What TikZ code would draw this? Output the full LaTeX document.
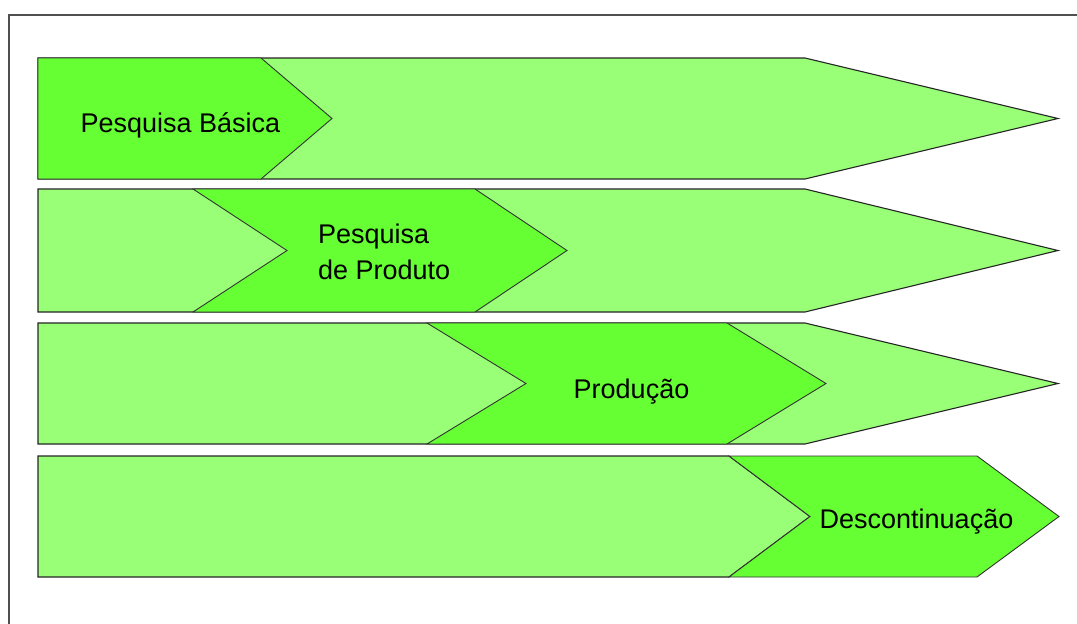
\documentclass[tikz,border=0pt]{standalone}
\usepackage{fontspec}
\setmainfont{Liberation Sans}
\definecolor{phaselight}{RGB}{153,255,119}
\definecolor{phasedark}{RGB}{102,255,51}
\definecolor{framegray}{RGB}{80,80,80}
\begin{document}
\begin{tikzpicture}[x=1pt,y=-1pt,
  band/.style={fill=phaselight,draw=black!85,line width=1.1pt,line join=miter},
  phase/.style={fill=phasedark,draw=black!80,line width=0.9pt,line join=miter},
  label/.style={font=\fontsize{27}{36}\selectfont,text=black,inner sep=0pt,anchor=base}]
\useasboundingbox (0,0) rectangle (1077,624);
\fill[white] (0,0) rectangle (1077,624);
% outer frame
\draw[framegray,line width=1.3pt] (9,630) -- (9,15) -- (1080,15);

% light background bands
\draw[band] (38,58) -- (805,58) -- (1058,118.5) -- (805,179) -- (38,179) -- cycle;
\draw[band] (38,189) -- (805,189) -- (1058,250.5) -- (805,312) -- (38,312) -- cycle;
\draw[band] (38,323) -- (805,323) -- (1058,383.5) -- (805,444) -- (38,444) -- cycle;
\draw[band] (38,456) -- (729,456) -- (810,516.5) -- (729,577) -- (38,577) -- cycle;

% highlighted phases
\draw[phase] (38,58) -- (261,58) -- (332,118.5) -- (261,179) -- (38,179) -- cycle;
\draw[phase] (193,189) -- (475,189) -- (567,250.5) -- (475,312) -- (193,312) -- (287,250.5) -- cycle;
\draw[phase] (427,323) -- (727,323) -- (826,383.5) -- (727,444) -- (427,444) -- (526,383.5) -- cycle;
\draw[phase] (729,456) -- (977,456) -- (1059,516.5) -- (977,577) -- (729,577) -- (810,516.5) -- cycle;

% phase labels
\node[label] (basica) at (180.5,132) {Pesquisa Básica};
\node[label,anchor=base west] (pesq) at (318,243) {Pesquisa};
\node[label,anchor=base west] (prod) at (318,279) {de Produto};
\node[label] (producao) at (631.5,398) {Produção};
\node[label] (descont) at (916.5,528) {Descontinuação};
\end{tikzpicture}
\end{document}
